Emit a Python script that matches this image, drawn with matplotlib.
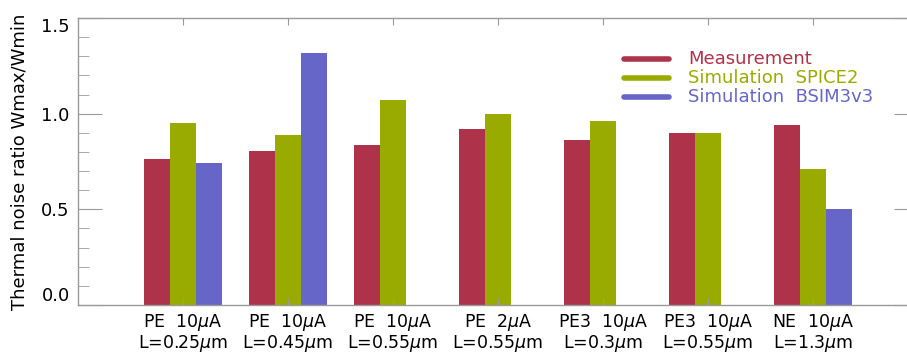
import matplotlib
matplotlib.use('Agg')
import matplotlib.pyplot as plt
from matplotlib.lines import Line2D
from matplotlib.ticker import MultipleLocator
import numpy as np

# data
groups = ['PE  10$\\mu$A\nL=0.25$\\mu$m', 'PE  10$\\mu$A\nL=0.45$\\mu$m',
          'PE  10$\\mu$A\nL=0.55$\\mu$m', 'PE  2$\\mu$A\nL=0.55$\\mu$m',
          'PE3  10$\\mu$A\nL=0.3$\\mu$m', 'PE3  10$\\mu$A\nL=0.55$\\mu$m',
          'NE  10$\\mu$A\nL=1.3$\\mu$m']
measurement = [0.763, 0.805, 0.836, 0.920, 0.864, 0.900, 0.942]
spice2 = [0.951, 0.890, 1.072, 1.000, 0.960, 0.900, 0.713]
bsim3v3 = [0.742, 1.317, np.nan, np.nan, np.nan, np.nan, 0.500]
series_names = ['Measurement', 'Simulation  SPICE2', 'Simulation  BSIM3v3']

C_RED = '#AE324A'
C_GREEN = '#9AAB00'
C_BLUE = '#6666C8'
C_AXIS = '#9A9A9A'
FS = 13

W, H = 907, 354
fig = plt.figure(figsize=(W / 100, H / 100), dpi=100)
# axes runs a bit past the right edge, like the original crop
ax = fig.add_axes([78 / W, 1 - 305 / H, (918 - 78) / W, (305 - 18) / H])

x = np.arange(1, len(groups) + 1)
bw = 0.25
ax.bar(x - bw, measurement, bw, color=C_RED, edgecolor='none')
ax.bar(x, spice2, bw, color=C_GREEN, edgecolor='none')
ax.bar(x + bw, bsim3v3, bw, color=C_BLUE, edgecolor='none')

ax.set_xlim(0, 8)
ax.set_ylim(0, 1.5)
for s in ax.spines.values():
    s.set_color(C_AXIS)
    s.set_linewidth(1.0)

ax.set_xticks(x)
ax.set_xticklabels(groups, fontsize=12.5, linespacing=1.0)
ax.tick_params(axis='x', direction='in', top=True, bottom=True, length=5,
               color=C_AXIS, pad=5)
ax.yaxis.set_major_locator(MultipleLocator(0.5))
ax.yaxis.set_minor_locator(MultipleLocator(0.1))
ax.tick_params(axis='y', which='major', direction='in', left=True, right=True,
               length=17, color=C_AXIS, labelsize=FS, pad=6)
ax.tick_params(axis='y', which='minor', direction='in', left=True, right=True,
               length=8, color=C_AXIS)
ax.set_yticks([0, 0.5, 1.0, 1.5])
ax.set_yticklabels(['0.0', '0.5', '1.0', '1.5'])
ylabs = ax.get_yticklabels()
ylabs[0].set_va('bottom')
ylabs[-1].set_va('top')

fig.text(20 / W, 1 - 162 / H, 'Thermal noise ratio Wmax/Wmin', rotation=90,
         ha='center', va='center', fontsize=13)

# legend drawn by hand
for i, (name, col) in enumerate(zip(series_names, [C_RED, C_GREEN, C_BLUE])):
    yy = 1 - (59 + 19 * i) / H
    fig.add_artist(Line2D([624 / W, 669 / W], [yy, yy], color=col, lw=4,
                          solid_capstyle='round', transform=fig.transFigure))
    fig.text(688 / W, yy, name, color=col, fontsize=FS, ha='left', va='center')

plt.savefig('out.png', dpi=100, facecolor='white')
plt.close()
